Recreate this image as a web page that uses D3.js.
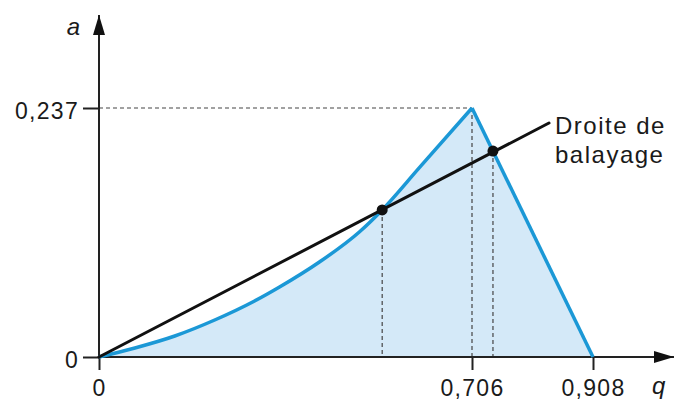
<!DOCTYPE html>
<html>
<head>
<meta charset="utf-8">
<script src="https://cdn.jsdelivr.net/npm/d3@7"></script>
<style>
  body { margin: 0; background: #fff; }
  svg { display: block; }
  text { font-family: "Liberation Sans", Arial, sans-serif; fill: #1a1a1a; }
  .tick line { stroke: #222; stroke-width: 2; }
  .tick text { font-size: 23px; letter-spacing: 1.3px; }
</style>
</head>
<body>
<svg class="chart" width="675" height="401"></svg>
<script>
// equilibrium curve (q, a) up to the peak
let curveQ = [0, 0.068, 0.1435, 0.219, 0.2945, 0.3417, 0.4172, 0.4927, 0.536, 0.606, 0.706];
let curveA = [0, 0.0086, 0.0200, 0.0352, 0.0533, 0.0666, 0.0904, 0.1190, 0.140, 0.180, 0.237];
// falling side from the peak
let fallQ = [0.706, 0.908];
let fallA = [0.237, 0];
// sweep line ("droite de balayage")
let sweepQ = [0, 0.8345];
let sweepA = [0, 0.2227];
// intersection points
let dotQ = [0.536, 0.741];
let dotA = [0.140, 0.196];
// ticks
let xTicks = [0, 0.706, 0.908];
let yTicks = [0, 0.237];

let svg = d3.select("body").select(".chart");

//scales (x axis is schematic, not linear)
let x = d3.scaleLinear().domain([0, 0.706, 0.908]).range([99, 472, 593]);
let y = d3.scaleLinear().domain([0, 0.237]).range([357, 108]);

let fr = d3.formatLocale({decimal: ",", thousands: " ", grouping: [3], currency: ["", ""]});
let fmt = fr.format("~g");

let curvePts = curveQ.map((q, i) => [q, curveA[i]]);
let fallPts = fallQ.map((q, i) => [q, fallA[i]]);

let smooth = d3.line()
  .x(d => x(d[0]))
  .y(d => y(d[1]))
  .curve(d3.curveMonotoneX);
let straight = d3.line()
  .x(d => x(d[0]))
  .y(d => y(d[1]));

// filled area under the curve
svg.append("path")
  .attr("d", smooth(curvePts) + "L" + x(0.908) + "," + y(0) + "Z")
  .attr("fill", "#d4e9f8")
  .attr("stroke", "none");

// dashed guides
let guides = svg.append("g")
  .attr("stroke", "#444")
  .attr("stroke-width", 1.2)
  .attr("stroke-dasharray", "4,3")
  .attr("fill", "none");
guides.append("line")
  .attr("x1", x(0)).attr("x2", x(0.706))
  .attr("y1", y(0.237)).attr("y2", y(0.237));
guides.append("line")
  .attr("x1", x(0.706)).attr("x2", x(0.706))
  .attr("y1", y(0.237)).attr("y2", y(0));
dotQ.forEach((q, i) => {
  guides.append("line")
    .attr("x1", x(q)).attr("x2", x(q))
    .attr("y1", y(dotA[i])).attr("y2", y(0));
});

// markers for arrows
let defs = svg.append("defs");
defs.append("marker")
  .attr("id", "arrow")
  .attr("markerUnits", "userSpaceOnUse")
  .attr("viewBox", "0 0 20 12")
  .attr("refX", 20).attr("refY", 6)
  .attr("markerWidth", 20).attr("markerHeight", 12)
  .attr("orient", "auto")
  .append("path")
  .attr("d", "M0,0L20,6L0,12Z")
  .attr("fill", "#111");

// axes
let xAxis = d3.axisBottom(x).tickValues(xTicks).tickSize(13).tickPadding(10).tickFormat(fmt);
let yAxis = d3.axisLeft(y).tickValues(yTicks).tickSize(16).tickPadding(4).tickFormat(fmt);

let xGroup = svg.append("g").attr("transform", translate(0, y(0))).call(xAxis);
let yGroup = svg.append("g").attr("transform", translate(x(0), 0)).call(yAxis);
xGroup.select(".domain").remove();
yGroup.select(".domain").remove();
yGroup.selectAll(".tick text").attr("dy", "0.45em");

svg.append("line")
  .attr("x1", x(0)).attr("x2", 674)
  .attr("y1", y(0)).attr("y2", y(0))
  .attr("stroke", "#222").attr("stroke-width", 2)
  .attr("marker-end", "url(#arrow)");
svg.append("line")
  .attr("x1", x(0)).attr("x2", x(0))
  .attr("y1", y(0)).attr("y2", 15)
  .attr("stroke", "#222").attr("stroke-width", 2)
  .attr("marker-end", "url(#arrow)");

// axis names
svg.append("text")
  .attr("x", 80).attr("y", 35)
  .attr("text-anchor", "end")
  .style("font-size", "24px").style("font-style", "italic")
  .text("a");
svg.append("text")
  .attr("x", 652).attr("y", 394)
  .style("font-size", "24px").style("font-style", "italic")
  .text("q");

// blue curve
svg.append("path")
  .datum(curvePts)
  .attr("d", smooth)
  .attr("fill", "none")
  .attr("stroke", "#1b98d6")
  .attr("stroke-width", 3.5)
  .attr("stroke-linejoin", "round");
svg.append("path")
  .datum(fallPts)
  .attr("d", straight)
  .attr("fill", "none")
  .attr("stroke", "#1b98d6")
  .attr("stroke-width", 3.5)
  .attr("stroke-linejoin", "round");

// sweep line
svg.append("path")
  .datum(sweepQ.map((q, i) => [q, sweepA[i]]))
  .attr("d", straight)
  .attr("fill", "none")
  .attr("stroke", "#111")
  .attr("stroke-width", 3)
  .attr("stroke-linecap", "round");

// points
svg.selectAll(".dot")
  .data(dotQ)
  .enter().append("circle")
  .attr("class", "dot")
  .attr("cx", d => x(d))
  .attr("cy", (d, i) => y(dotA[i]))
  .attr("r", 5.5)
  .attr("fill", "#111");

// label of the sweep line
let lab = svg.append("text")
  .attr("x", 555).attr("y", 134)
  .style("font-size", "24px")
  .style("letter-spacing", "1.5px");
lab.append("tspan").attr("x", 555).text("Droite de");
lab.append("tspan").attr("x", 555).attr("dy", 29).text("balayage");

function translate(x, y) {
  return 'translate(' + x + ',' + y + ')';
}
</script>
</body>
</html>
